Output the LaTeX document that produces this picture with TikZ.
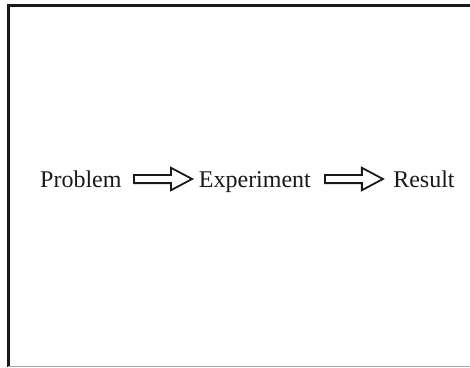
\documentclass[tikz,border=0pt]{standalone}
\usepackage{fontspec}
\setmainfont{Liberation Serif}
\usepackage{tikz}
\usetikzlibrary{positioning,shapes.arrows}
\tikzset{
  word/.style={inner sep=0pt, text=black!90,
    font=\fontsize{24}{28}\selectfont},
  hollow/.style={single arrow, draw=black!90, line width=1.8pt, fill=white,
    inner sep=3.2pt, minimum width=17pt, minimum height=58pt,
    single arrow head indent=0pt, single arrow tip angle=56},
  frame/.style={black!90, line width=3pt}
}

\begin{document}
\begin{tikzpicture}[x=1pt, y=-1pt]
  \useasboundingbox (0,0) rectangle (470,367);
  % border of the panel
  \coordinate (tl) at (8,5);
  \coordinate (tr) at (470,5);
  \coordinate (bl) at (8,367);
  \draw[frame] (bl) -- (tl) -- (tr);
  \draw[black!35, line width=1pt] (8,366) -- (470,366);

  \node[word, anchor=base west] (prob) at (40,187) {Problem};
  \node[word, base right=77pt of prob] (expt) {Experiment};
  \node[word, base right=82pt of expt] (res) {Result};

  \path (prob.base east) -- (expt.base west)
    node[hollow, midway, yshift=8pt, xshift=-1pt] (a1) {};
  \path (expt.base east) -- (res.base west)
    node[hollow, midway, yshift=8pt, xshift=-2pt] (a2) {};
\end{tikzpicture}
\end{document}
